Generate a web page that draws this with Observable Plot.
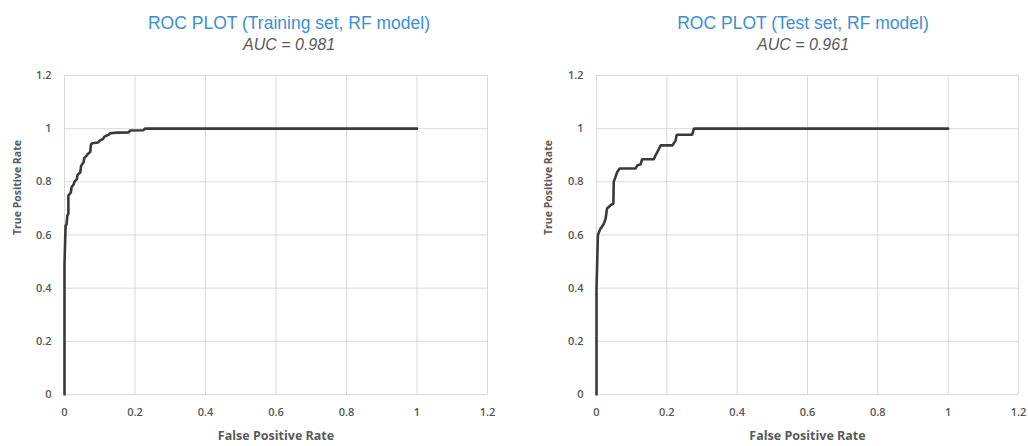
<!DOCTYPE html>
<html><head><meta charset="utf-8">
<script src="https://cdn.jsdelivr.net/npm/d3@7"></script>
<script src="https://cdn.jsdelivr.net/npm/@observablehq/plot@0.6"></script>
<style>
body{margin:0;background:#fff;width:1028px;height:446px;overflow:hidden}
#wrap{display:flex}
.panel{position:relative;width:514px;height:446px}
.title{position:absolute;top:13px;font:17.5px "Liberation Sans",Arial,sans-serif;color:#3b8fd3;white-space:nowrap;transform:translateX(-50%)}
.auc{position:absolute;top:36px;font:italic 16px "Liberation Sans",Arial,sans-serif;color:#595959;white-space:nowrap;transform:translateX(-50%)}
.panel svg{position:absolute;top:60px;left:0}
</style>
</head><body><div id="wrap"></div>
<script>
const ticks = [0, 0.2, 0.4, 0.6, 0.8, 1, 1.2];
const tickLabels = ["0", "0.2", "0.4", "0.6", "0.8", "1", "1.2"];

const titles = ["ROC PLOT (Training set, RF model)", "ROC PLOT (Test set, RF model)"];
const aucLabels = ["AUC = 0.981", "AUC = 0.961"];

const trainFPR = [0,0,0.003,0.006,0.008,0.011,0.011,0.018,0.02,0.026,0.028,0.035,0.037,0.045,0.047,0.054,0.056,0.063,0.066,0.073,0.075,0.078,0.095,0.1,0.11,0.113,0.125,0.13,0.149,0.182,0.186,0.224,0.228,1];
const trainTPR = [0,0.49,0.635,0.64,0.673,0.68,0.748,0.76,0.78,0.79,0.80,0.81,0.826,0.836,0.86,0.874,0.889,0.899,0.905,0.912,0.94,0.945,0.948,0.955,0.962,0.97,0.977,0.983,0.985,0.986,0.993,0.994,1,1];

const testFPR = [0,0,0.004,0.011,0.015,0.021,0.026,0.03,0.04,0.048,0.049,0.059,0.066,0.111,0.116,0.125,0.13,0.163,0.168,0.178,0.182,0.216,0.225,0.228,0.272,0.277,1];
const testTPR = [0,0.40,0.6,0.624,0.63,0.643,0.662,0.70,0.712,0.718,0.80,0.837,0.85,0.85,0.862,0.865,0.885,0.885,0.90,0.925,0.937,0.937,0.956,0.977,0.977,1,1];

const panels = [
  {fpr: trainFPR, tpr: trainTPR, ml: 64, mr: 27, tx: 289, lx: 17},
  {fpr: testFPR, tpr: testTPR, ml: 82, mr: 10, tx: 289, lx: 34}
];

const wrap = document.getElementById("wrap");
panels.forEach((p, i) => {
  const div = document.createElement("div");
  div.className = "panel";
  const t = document.createElement("div");
  t.className = "title"; t.textContent = titles[i]; t.style.left = p.tx + "px";
  const a = document.createElement("div");
  a.className = "auc"; a.textContent = aucLabels[i]; a.style.left = p.tx + "px";
  div.appendChild(t); div.appendChild(a);
  const data = p.fpr.map((x, j) => ({x, y: p.tpr[j]}));
  const fmt = d => tickLabels[ticks.findIndex(v => Math.abs(v - d) < 1e-9)];
  const chart = Plot.plot({
    width: 514, height: 386,
    marginLeft: p.ml, marginRight: p.mr, marginTop: 15, marginBottom: 52,
    style: {fontFamily: "'Open Sans', sans-serif", fontSize: "11px", color: "#595959", background: "transparent"},
    x: {domain: [0, 1.2], ticks, tickFormat: fmt, tickSize: 0, tickPadding: 14, label: null},
    y: {domain: [0, 1.2], ticks, tickFormat: fmt, tickSize: 0, tickPadding: 13, label: null},
    marks: [
      Plot.gridX(ticks, {stroke: "#d9d9d9", strokeOpacity: 1}),
      Plot.gridY(ticks, {stroke: "#d9d9d9", strokeOpacity: 1}),
      Plot.axisX({ticks, tickFormat: fmt, tickSize: 0, tickPadding: 14, fill: "#555", fontWeight: 600}),
      Plot.axisY({ticks, tickFormat: fmt, tickSize: 0, tickPadding: 13, fill: "#555", fontWeight: 600}),
      Plot.line(data, {x: "x", y: "y", stroke: "#3a3a3a", strokeWidth: 2.6, strokeLinejoin: "miter"}),
      Plot.text(["False Positive Rate"], {frameAnchor: "bottom", dy: 45, fontWeight: "bold", fontSize: 12.5, fill: "#595959", text: d => d}),
      Plot.text(["True Positive Rate"], {frameAnchor: "left", dx: -p.ml + p.lx, rotate: -90, fontWeight: "bold", fontSize: 10.5, fill: "#595959", text: d => d})
    ]
  });
  div.appendChild(chart);
  wrap.appendChild(div);
});
</script>
</body></html>
